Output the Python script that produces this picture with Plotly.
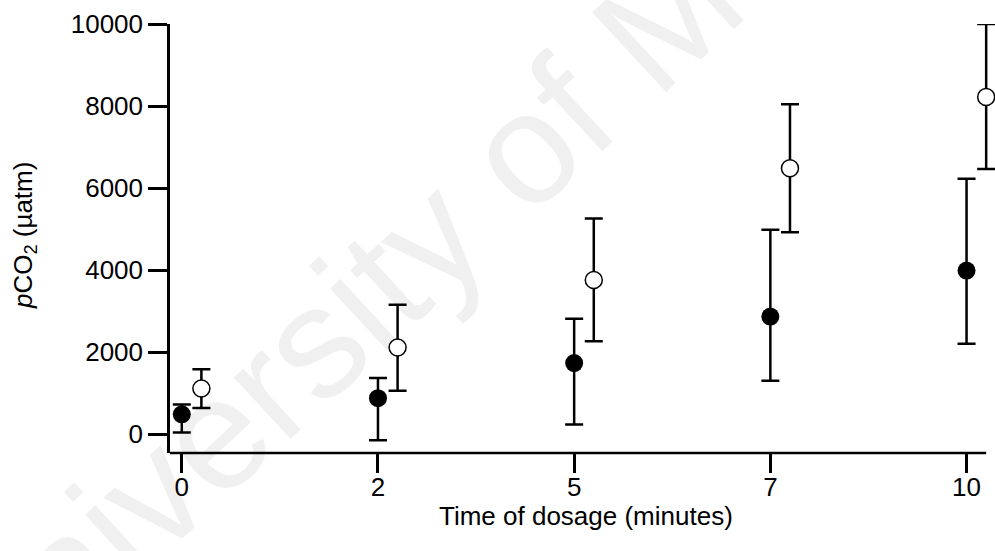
import plotly.graph_objects as go

# ---- data ----
dosage_labels = ["0", "2", "5", "7", "10"]
closed_values = [480, 875, 1730, 2865, 3985]
closed_err_plus = [240, 490, 1080, 2115, 2240]
closed_err_minus = [440, 1030, 1500, 1565, 1785]
open_values = [1110, 2110, 3755, 6480, 8220]
open_err_plus = [470, 1040, 1500, 1560, 1780]
open_err_minus = [475, 1055, 1490, 1560, 1755]
y_ticks = [0, 2000, 4000, 6000, 8000, 10000]
y_tick_labels = ["0", "2000", "4000", "6000", "8000", "10000"]
x_title = "Time of dosage (minutes)"
y_title = "<i>p</i>CO<sub>2</sub> (µatm)"
watermark = "University of Melbourne"

# ---- style ----
FONT = "Liberation Sans, Arial, Helvetica, sans-serif"
OPEN_OFFSET = 0.1
X_MIN, X_AXIS_END, X_VIEW_END = -0.06, 4.1, 4.145
x_closed = list(range(len(dosage_labels)))
x_open = [i + OPEN_OFFSET for i in x_closed]

fig = go.Figure()
fig.add_trace(go.Scatter(
    x=x_closed, y=closed_values, mode="markers", cliponaxis=False,
    marker=dict(symbol="circle", size=18, color="black", line=dict(width=0)),
    error_y=dict(type="data", symmetric=False, array=closed_err_plus,
                 arrayminus=closed_err_minus, color="black", thickness=2.5, width=9),
    showlegend=False, hoverinfo="skip",
))
fig.add_trace(go.Scatter(
    x=x_open, y=open_values, mode="markers", cliponaxis=False,
    marker=dict(symbol="circle", size=17, color="white", line=dict(width=1.5, color="black")),
    error_y=dict(type="data", symmetric=False, array=open_err_plus,
                 arrayminus=open_err_minus, color="black", thickness=2.5, width=9),
    showlegend=False, hoverinfo="skip",
))

# faint watermark behind the data
fig.add_shape(
    type="line", xref="paper", yref="paper",
    x0=-0.348, y0=-0.622, x1=1.264, y1=2.240, layer="below",
    line=dict(color="rgba(0,0,0,0)", width=0),
    label=dict(text=watermark, textposition="middle", xanchor="center", yanchor="middle",
               padding=0, font=dict(size=158, color="#f0f0f0", family=FONT)),
)

# x axis baseline (stops at the last open marker, as in the original)
fig.add_shape(type="line", xref="x", yref="paper", x0=X_MIN, x1=X_AXIS_END, y0=0, y1=0,
              layer="above", line=dict(color="black", width=2.5))

fig.add_annotation(text=x_title, xref="paper", yref="paper", x=0.504, y=-0.147,
                   xanchor="center", yanchor="middle", showarrow=False,
                   font=dict(size=26, family=FONT, color="black"))
fig.add_annotation(text=y_title, xref="paper", yref="paper", x=-0.177, y=0.508,
                   xanchor="center", yanchor="middle", showarrow=False, textangle=-90,
                   font=dict(size=26, family=FONT, color="black"))

fig.update_layout(
    width=995, height=551,
    margin=dict(l=170, r=0, t=24, b=98),
    paper_bgcolor="white", plot_bgcolor="white",
    font=dict(family=FONT, size=26, color="black"),
    xaxis=dict(
        range=[X_MIN, X_VIEW_END], tickmode="array", tickvals=x_closed, ticktext=dosage_labels,
        showline=False,
        ticks="outside", ticklen=19, tickwidth=2.5, tickcolor="black",
        showgrid=False, zeroline=False, automargin=False,
        tickfont=dict(size=26), ticklabelstandoff=-8,
    ),
    yaxis=dict(
        range=[-463, 10000], tickmode="array", tickvals=y_ticks, ticktext=y_tick_labels,
        showline=True, linecolor="black", linewidth=2.5,
        ticks="outside", ticklen=19, tickwidth=2.5, tickcolor="black",
        showgrid=False, zeroline=False, automargin=False,
        tickfont=dict(size=26),
    ),
)

fig.write_html("out.html", config={"displayModeBar": False},
               post_script="document.body.style.margin='0';")
